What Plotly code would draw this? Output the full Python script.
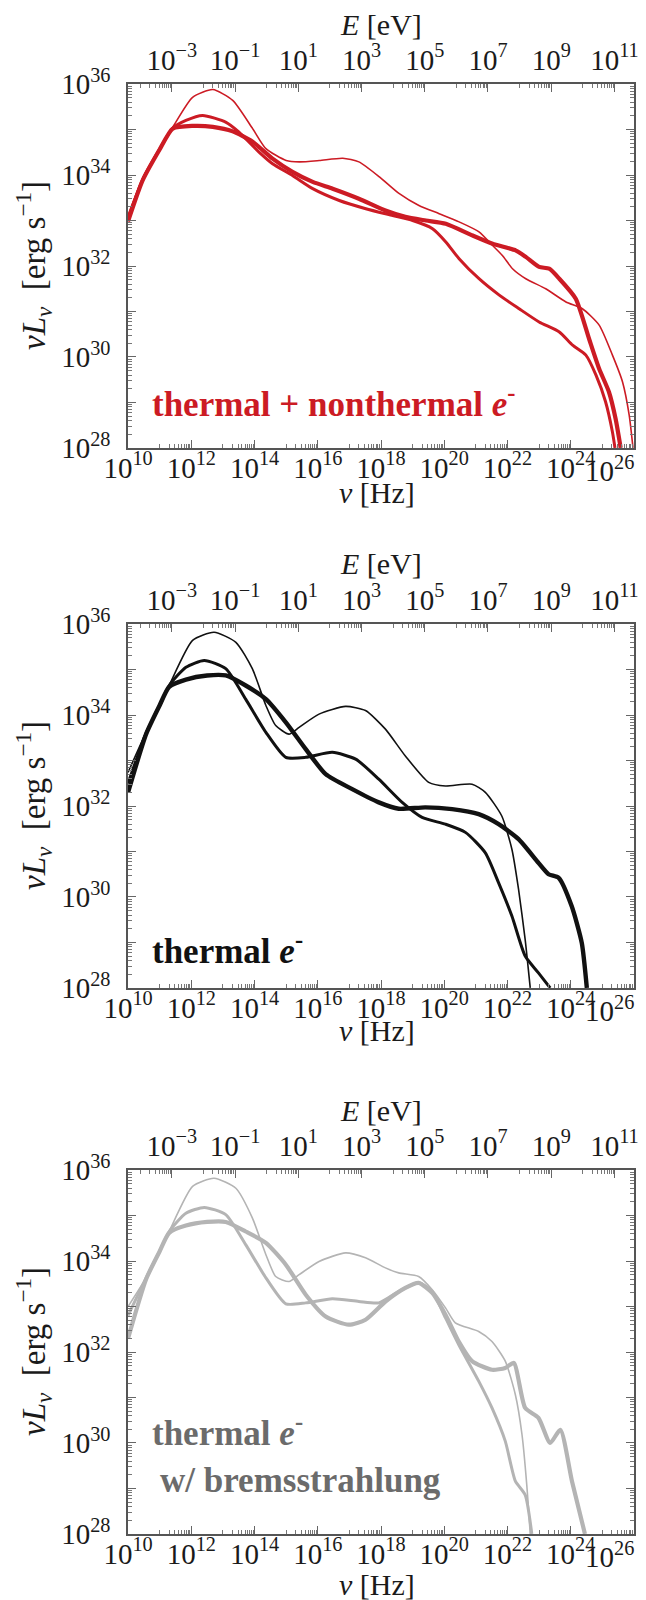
import plotly.graph_objects as go

# ---------------- data (log10 values) ----------------
# Panel 1: thermal + nonthermal e-
red_thin_lognu = [10.0, 10.46, 10.99, 11.41, 12.04, 12.68, 13.31, 13.94, 14.36, 15.0, 15.42, 16.05, 16.79, 17.3, 17.95,
                  18.58, 19.2, 19.84, 20.47, 21.1, 21.53, 21.84, 22.16, 22.58, 23.21, 23.85, 24.37, 24.9, 25.32, 25.64, 25.85, 25.97]
red_thin_logL = [33.12, 33.92, 34.58, 35.05, 35.71, 35.88, 35.64, 35.02, 34.58, 34.32, 34.29, 34.32, 34.37, 34.29, 33.96,
                 33.59, 33.33, 33.15, 32.97, 32.75, 32.45, 32.23, 31.94, 31.72, 31.5, 31.21, 31.06, 30.7, 30.04, 29.45, 28.72, 28.0]
red_med_lognu = [10.0, 10.46, 10.99, 11.41, 11.83, 12.36, 13.1, 13.5, 14.15, 14.57, 15.2, 15.84, 16.68, 17.52, 18.37, 19.0,
                 19.63, 20.05, 20.47, 21.1, 21.74, 22.37, 23.0, 23.64, 24.06, 24.48, 24.8, 25.1, 25.32, 25.4]
red_med_logL = [33.05, 33.9, 34.56, 35.03, 35.2, 35.31, 35.16, 34.95, 34.5, 34.25, 33.99, 33.7, 33.44, 33.26, 33.11, 33.0,
                32.82, 32.53, 32.16, 31.72, 31.36, 31.06, 30.77, 30.55, 30.26, 30.04, 29.6, 29.02, 28.35, 28.0]
red_thick_lognu = [10.0, 10.46, 10.99, 11.41, 12.04, 12.68, 13.31, 13.94, 14.57, 15.2, 15.84, 16.47, 17.3, 18.14, 18.77,
                   19.42, 20.05, 20.9, 21.53, 22.27, 22.58, 23.0, 23.32, 23.64, 24.16, 24.58, 24.9, 25.21, 25.42, 25.58]
red_thick_logL = [32.98, 33.88, 34.55, 35.02, 35.08, 35.06, 34.96, 34.73, 34.36, 34.07, 33.85, 33.7, 33.48, 33.22, 33.08,
                  33.0, 32.93, 32.67, 32.49, 32.34, 32.2, 31.98, 31.94, 31.72, 31.28, 30.4, 29.74, 29.23, 28.64, 28.0]

# Panel 2: thermal e-
blk_thin_lognu = [10.0, 10.57, 10.99, 11.3, 12.04, 12.72, 13.41, 13.93, 14.36, 14.67, 15.09, 15.41, 16.04, 16.88, 17.51,
                  18.14, 18.77, 19.51, 20.04, 20.88, 21.3, 21.82, 22.14, 22.35, 22.56, 22.72]
blk_thin_logL = [32.74, 33.62, 34.2, 34.65, 35.64, 35.82, 35.6, 35.02, 34.21, 33.77, 33.58, 33.73, 34.02, 34.19, 34.1,
                 33.69, 33.1, 32.52, 32.44, 32.48, 32.3, 31.78, 31.05, 30.17, 29.06, 28.0]
blk_med_lognu = [10.0, 10.57, 10.99, 11.3, 11.83, 12.41, 13.09, 13.72, 14.36, 14.99, 15.62, 16.46, 17.2, 17.93, 18.67,
                 19.3, 20.04, 20.67, 21.3, 21.72, 22.14, 22.56, 22.98, 23.35]
blk_med_logL = [32.5, 33.6, 34.2, 34.65, 35.05, 35.2, 35.02, 34.35, 33.62, 33.07, 33.07, 33.18, 33.03, 32.59, 32.08,
                31.75, 31.6, 31.42, 30.97, 30.31, 29.58, 28.7, 28.33, 28.0]
blk_thick_lognu = [10.0, 10.57, 10.99, 11.3, 11.83, 12.5, 13.09, 13.72, 14.36, 14.99, 15.62, 16.25, 17.09, 17.93, 18.56,
                   19.4, 20.25, 21.09, 21.72, 22.35, 22.98, 23.3, 23.62, 24.03, 24.35, 24.51]
blk_thick_logL = [32.3, 33.58, 34.2, 34.62, 34.78, 34.87, 34.87, 34.65, 34.35, 33.84, 33.25, 32.7, 32.37, 32.08, 31.94,
                  31.97, 31.93, 31.82, 31.6, 31.27, 30.75, 30.5, 30.42, 29.8, 28.99, 28.0]

# Panel 3: thermal e- with bremsstrahlung
gry_thin_lognu = [10.0, 10.57, 10.99, 11.3, 12.04, 12.72, 13.41, 13.93, 14.36, 14.67, 15.09, 15.41, 16.04, 16.88, 17.51,
                  18.14, 18.56, 19.19, 19.62, 20.04, 20.35, 21.09, 21.51, 21.93, 22.25, 22.46, 22.61, 22.72]
gry_thin_logL = [33.0, 33.63, 34.2, 34.65, 35.64, 35.82, 35.6, 34.95, 34.14, 33.66, 33.55, 33.7, 33.99, 34.18, 34.07,
                 33.85, 33.74, 33.66, 33.37, 32.97, 32.64, 32.45, 32.23, 31.8, 31.06, 30.18, 29.08, 28.0]
gry_med_lognu = [10.0, 10.57, 10.99, 11.3, 11.83, 12.41, 13.09, 13.72, 14.36, 14.99, 15.62, 16.46, 17.3, 17.93, 18.56,
                 19.19, 19.62, 20.04, 20.46, 21.09, 21.51, 21.93, 22.25, 22.56, 22.77]
gry_med_logL = [32.8, 33.63, 34.2, 34.65, 35.05, 35.18, 35.02, 34.36, 33.63, 33.06, 33.08, 33.17, 33.11, 33.08, 33.33,
                33.52, 33.33, 32.75, 32.16, 31.36, 30.77, 30.04, 29.16, 28.86, 28.0]
gry_thick_lognu = [10.0, 10.57, 10.99, 11.3, 11.83, 12.5, 13.09, 13.72, 14.36, 14.99, 15.62, 16.25, 16.98, 17.51, 18.14,
                   18.77, 19.19, 19.62, 20.04, 20.46, 20.88, 21.51, 21.93, 22.2, 22.56, 22.98, 23.35, 23.67, 24.04, 24.45]
gry_thick_logL = [32.3, 33.6, 34.2, 34.62, 34.78, 34.86, 34.86, 34.65, 34.4, 33.92, 33.26, 32.78, 32.6, 32.71, 33.11,
                  33.41, 33.52, 33.3, 32.82, 32.23, 31.8, 31.61, 31.65, 31.76, 30.77, 30.55, 30.0, 30.29, 29.16, 28.0]

# axis tick labels
nu_tick_exps = [10, 12, 14, 16, 18, 20, 22, 24, 26]
E_tick_exps = [-3, -1, 1, 3, 5, 7, 9, 11]
L_tick_exps = [28, 30, 32, 34, 36]

panel_labels = ["thermal + nonthermal <i>e</i><sup>-</sup>", "thermal <i>e</i><sup>-</sup>",
                "thermal <i>e</i><sup>-</sup>"]

# ---------------- styling / layout ----------------
W, H = 646, 1600
LOG_H_EV = -14.3835  # log10(h [eV s])
FONT = "Liberation Serif"
XL, XR = 120, 626
panel_tops = [76, 616, 1162]
panel_h = 364
nu_title_gap = [44, 42, 50]
EPS = 0.002

panels = [
    dict(series=[(red_thin_lognu, red_thin_logL, 1.6), (red_med_lognu, red_med_logL, 3.0),
                 (red_thick_lognu, red_thick_logL, 4.2)], color="#cc1b24", tcolor="#cc1b24"),
    dict(series=[(blk_thin_lognu, blk_thin_logL, 1.6), (blk_med_lognu, blk_med_logL, 3.0),
                 (blk_thick_lognu, blk_thick_logL, 4.4)], color="#111111", tcolor="#111111"),
    dict(series=[(gry_thin_lognu, gry_thin_logL, 1.6), (gry_med_lognu, gry_med_logL, 3.0),
                 (gry_thick_lognu, gry_thick_logL, 4.2)], color="#b4b4b4", tcolor="#6b6b6b"),
]


def sup(e):
    s = str(e).replace("-", "\u2212")
    return "10<sup>%s</sup>" % s


def minor_vals(lo, hi, parity):
    vals = []
    for d in range(lo, hi + 1):
        if d % 2 == parity:
            vals.append(10.0 ** d)
            for k in range(2, 10):
                vals.append(k * 10.0 ** d)
    return vals


fig = go.Figure()
layout = dict(width=W, height=H, margin=dict(l=0, r=0, t=0, b=0, pad=0, autoexpand=False),
              paper_bgcolor="white", plot_bgcolor="white", showlegend=False,
              font=dict(family=FONT, color="#222"))
annotations = []
TICK_FONT = dict(family=FONT, size=29, color="#1a1a1a")

axis_line = dict(showline=True, linecolor="#555", linewidth=1.5, ticks="inside", tickcolor="#666",
                 showgrid=False, zeroline=False, automargin=False, tickfont=TICK_FONT)

for i, p in enumerate(panels):
    top = panel_tops[i]
    bot = top + panel_h
    ydom = [1 - bot / H, 1 - top / H]
    xt = "x%d" % (2 * i + 2)
    xb_key = "xaxis" if i == 0 else "xaxis%d" % (2 * i + 1)
    xt_key = "xaxis%d" % (2 * i + 2)
    y_key = "yaxis" if i == 0 else "yaxis%d" % (i + 1)
    xb_ref = "x" if i == 0 else "x%d" % (2 * i + 1)
    y_ref = "y" if i == 0 else "y%d" % (i + 1)

    for lx, ly, w in p["series"]:
        fig.add_trace(go.Scatter(x=[10 ** v for v in lx], y=[10 ** v for v in ly], mode="lines",
                                 line=dict(color=p["color"], width=w, shape="spline", smoothing=0.6),
                                 xaxis=xb_ref, yaxis=y_ref, hoverinfo="skip"))
    # invisible trace to carry the top energy axis
    fig.add_trace(go.Scatter(x=[10 ** (10 + LOG_H_EV), 10 ** (26 + LOG_H_EV)], y=[1e30, 1e30], mode="lines",
                             line=dict(color="rgba(0,0,0,0)", width=0), xaxis=xt, yaxis=y_ref,
                             hoverinfo="skip"))

    # the last frequency label (at the right frame edge) is placed as an annotation so it stays inside the page
    layout[xb_key] = dict(axis_line, type="log", range=[10 - EPS, 26 + EPS], domain=[XL / W, XR / W],
                          anchor=y_ref, ticklabelstandoff=-7,
                          tickvals=[10.0 ** e for e in nu_tick_exps],
                          ticktext=[sup(e) if e != nu_tick_exps[-1] else "" for e in nu_tick_exps],
                          ticklen=8, tickwidth=1,
                          minor=dict(tickvals=minor_vals(10, 26, 1), ticklen=4, tickwidth=1, ticks="inside",
                                     tickcolor="#777"))
    # annotation x on a log axis is given in log10 units
    annotations.append(dict(text=sup(nu_tick_exps[-1]), x=nu_tick_exps[-1], xref=xb_ref,
                            xshift=-24, y=1 - (bot + 1) / H, yref="paper", showarrow=False,
                            xanchor="center", yanchor="top", font=TICK_FONT))
    layout[xt_key] = dict(axis_line, type="log", range=[10 - EPS + LOG_H_EV, 26 + EPS + LOG_H_EV],
                          overlaying=xb_ref, side="top", anchor=y_ref, ticklabelstandoff=1,
                          tickvals=[10.0 ** e for e in E_tick_exps], ticktext=[sup(e) for e in E_tick_exps],
                          ticklen=8, tickwidth=1,
                          minor=dict(tickvals=minor_vals(-5, 12, 0), ticklen=4, tickwidth=1, ticks="inside",
                                     tickcolor="#777"))
    layout[y_key] = dict(axis_line, type="log", range=[28 - EPS, 36 + EPS], domain=ydom, anchor=xb_ref,
                         mirror="ticks", ticklabelstandoff=10,
                         tickvals=[10.0 ** e for e in range(28, 37)],
                         ticktext=[sup(e) if e in L_tick_exps else "" for e in range(28, 37)],
                         ticklen=8, tickwidth=1,
                         minor=dict(tickvals=[k * 10.0 ** d for d in range(28, 36) for k in range(2, 10)],
                                    ticklen=4, tickwidth=1, ticks="inside", tickcolor="#777"))

    cx = (XL + XR) / 2 / W
    annotations.append(dict(text="<i>E</i> [eV]", x=cx, y=1 - (top - 60) / H, xref="paper", yref="paper",
                            showarrow=False, xanchor="center", yanchor="middle",
                            font=dict(family=FONT, size=30, color="#1a1a1a")))
    annotations.append(dict(text="<i>ν</i> [Hz]", x=cx - 4 / W, y=1 - (bot + nu_title_gap[i]) / H,
                            xref="paper", yref="paper", showarrow=False, xanchor="center", yanchor="middle",
                            font=dict(family=FONT, size=30, color="#1a1a1a")))
    annotations.append(dict(text="<i>νL</i><sub><i>ν</i></sub>  [erg s<sup>\u22121</sup>]", x=25 / W,
                            y=1 - (top + panel_h / 2) / H, xref="paper", yref="paper", textangle=-90,
                            showarrow=False, xanchor="center", yanchor="middle",
                            font=dict(family=FONT, size=33, color="#1a1a1a")))


# in-panel labels
def lab_font(c):
    return dict(family=FONT, size=35, color=c, weight="bold")


annotations.append(dict(text="<b>" + panel_labels[0] + "</b>", x=142 / W, y=1 - 394 / H, xref="paper",
                        yref="paper", showarrow=False, xanchor="left", yanchor="middle",
                        font=lab_font(panels[0]["tcolor"])))
annotations.append(dict(text="<b>" + panel_labels[1] + "</b>", x=142 / W, y=1 - 940 / H, xref="paper",
                        yref="paper", showarrow=False, xanchor="left", yanchor="middle",
                        font=lab_font(panels[1]["tcolor"])))
annotations.append(dict(text="<b>" + panel_labels[2] + "</b>", x=142 / W, y=1 - 1422 / H, xref="paper",
                        yref="paper", showarrow=False, xanchor="left", yanchor="middle",
                        font=lab_font(panels[2]["tcolor"])))
annotations.append(dict(text="<b>w/ bremsstrahlung</b>", x=150 / W, y=1 - 1472 / H, xref="paper",
                        yref="paper", showarrow=False, xanchor="left", yanchor="middle",
                        font=lab_font(panels[2]["tcolor"])))

layout["annotations"] = annotations
fig.update_layout(**layout)
fig.write_html("out.html")
